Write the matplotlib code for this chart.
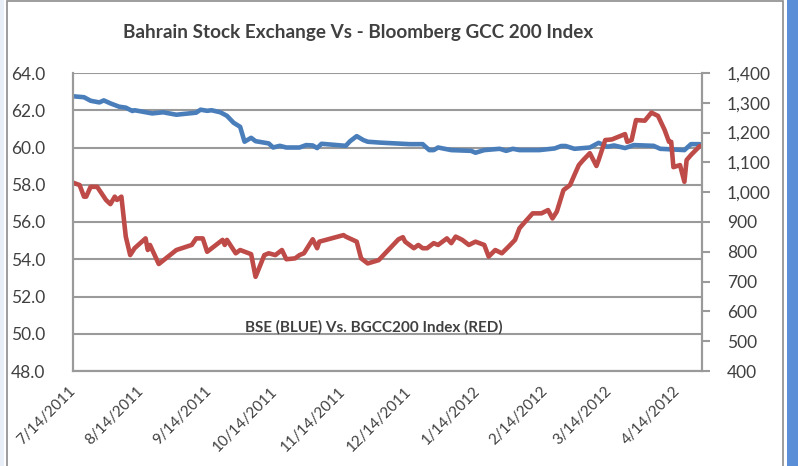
import datetime as dt
from matplotlib import pyplot as plt
from matplotlib.patches import Rectangle
from matplotlib.ticker import FuncFormatter, MultipleLocator

# =============================================================================
# Data
# =============================================================================
bse_dates = ['2011-07-14', '2011-07-19', '2011-07-22', '2011-07-26', '2011-07-28',
             '2011-07-31', '2011-08-04', '2011-08-07', '2011-08-10', '2011-08-11',
             '2011-08-19', '2011-08-24', '2011-08-30', '2011-09-08', '2011-09-10',
             '2011-09-13', '2011-09-15', '2011-09-19', '2011-09-22', '2011-09-25',
             '2011-09-28', '2011-09-30', '2011-10-03', '2011-10-05', '2011-10-11',
             '2011-10-13', '2011-10-16', '2011-10-19', '2011-10-25', '2011-10-28',
             '2011-10-31', '2011-11-02', '2011-11-04', '2011-11-15', '2011-11-17',
             '2011-11-20', '2011-11-23', '2011-11-25', '2011-12-01', '2011-12-14',
             '2011-12-20', '2011-12-23', '2011-12-25', '2011-12-27', '2012-01-02',
             '2012-01-11', '2012-01-13', '2012-01-17', '2012-01-24', '2012-01-27',
             '2012-01-30', '2012-02-02', '2012-02-11', '2012-02-18', '2012-02-21',
             '2012-02-23', '2012-02-27', '2012-03-05', '2012-03-09', '2012-03-13',
             '2012-03-16', '2012-03-21', '2012-03-25', '2012-04-03', '2012-04-06',
             '2012-04-11', '2012-04-17', '2012-04-20', '2012-04-24']
bse_values = [62.75, 62.70, 62.51, 62.42, 62.53, 62.37, 62.19, 62.14, 61.96, 62.00,
              61.83, 61.89, 61.76, 61.87, 62.03, 61.97, 62.00, 61.89, 61.70, 61.33,
              61.11, 60.31, 60.52, 60.34, 60.22, 60.00, 60.09, 60.00, 60.00, 60.13,
              60.11, 59.97, 60.20, 60.09, 60.34, 60.61, 60.40, 60.31, 60.26, 60.18,
              60.18, 59.86, 59.86, 60.00, 59.86, 59.82, 59.72, 59.86, 59.93, 59.82,
              59.93, 59.86, 59.86, 59.95, 60.08, 60.08, 59.93, 60.00, 60.25, 60.04,
              60.11, 59.97, 60.13, 60.09, 59.93, 59.90, 59.86, 60.18, 60.18]

gcc_dates = ['2011-07-14', '2011-07-17', '2011-07-19', '2011-07-20', '2011-07-22',
             '2011-07-25', '2011-07-27', '2011-07-29', '2011-07-31', '2011-08-02',
             '2011-08-03', '2011-08-05', '2011-08-07', '2011-08-09', '2011-08-11',
             '2011-08-16', '2011-08-17', '2011-08-18', '2011-08-22', '2011-08-30',
             '2011-09-06', '2011-09-08', '2011-09-11', '2011-09-13', '2011-09-20',
             '2011-09-21', '2011-09-22', '2011-09-26', '2011-09-28', '2011-10-03',
             '2011-10-05', '2011-10-09', '2011-10-11', '2011-10-14', '2011-10-17',
             '2011-10-19', '2011-10-23', '2011-10-25', '2011-10-27', '2011-10-31',
             '2011-11-02', '2011-11-03', '2011-11-14', '2011-11-15', '2011-11-20',
             '2011-11-22', '2011-11-25', '2011-11-30', '2011-12-09', '2011-12-11',
             '2011-12-12', '2011-12-16', '2011-12-18', '2011-12-20', '2011-12-22',
             '2011-12-25', '2011-12-27', '2011-12-31', '2012-01-02', '2012-01-04',
             '2012-01-07', '2012-01-10', '2012-01-13', '2012-01-17', '2012-01-19',
             '2012-01-22', '2012-01-25', '2012-01-28', '2012-01-31', '2012-02-02',
             '2012-02-04', '2012-02-08', '2012-02-12', '2012-02-15', '2012-02-17',
             '2012-02-19', '2012-02-22', '2012-02-25', '2012-02-27', '2012-02-29',
             '2012-03-02', '2012-03-05', '2012-03-08', '2012-03-09', '2012-03-12',
             '2012-03-15', '2012-03-18', '2012-03-21', '2012-03-22', '2012-03-24',
             '2012-03-26', '2012-03-30', '2012-04-02', '2012-04-05', '2012-04-08',
             '2012-04-10', '2012-04-11', '2012-04-12', '2012-04-15', '2012-04-17',
             '2012-04-18', '2012-04-20', '2012-04-24']
gcc_values = [1032, 1024, 985, 985, 1018, 1018, 996, 974, 960, 985,
              974, 985, 851, 789, 812, 845, 806, 823, 759, 806,
              823, 845, 845, 800, 840, 823, 840, 795, 806, 792,
              716, 789, 795, 789, 806, 775, 778, 789, 795, 842,
              812, 834, 856, 851, 834, 778, 761, 772, 842, 849,
              834, 812, 823, 812, 812, 829, 823, 845, 829, 851,
              840, 823, 834, 823, 784, 806, 795, 817, 840, 879,
              896, 929, 929, 940, 912, 935, 1007, 1024, 1058, 1091,
              1108, 1131, 1088, 1108, 1175, 1177, 1186, 1195, 1169, 1175,
              1242, 1240, 1267, 1256, 1209, 1169, 1169, 1084, 1091, 1035,
              1108, 1125, 1155]

xtick_labels = ['7/14/2011', '8/14/2011', '9/14/2011', '10/14/2011', '11/14/2011',
                '12/14/2011', '1/14/2012', '2/14/2012', '3/14/2012', '4/14/2012']


def to_dates(strings, fmt):
    return [dt.datetime.strptime(s, fmt) for s in strings]


# =============================================================================
# Plot
# =============================================================================
plt.rcParams['font.family'] = ['Lato', 'DejaVu Sans']
txt = '#404040'
grid_c = '#9a9a9a'

fig = plt.figure(figsize=[7.98, 4.66], dpi=100)
ax1 = fig.add_axes([73/798, 1-371/466, (702-73)/798, (371-73)/466])
ax2 = ax1.twinx()

ax1.plot(to_dates(bse_dates, '%Y-%m-%d'), bse_values, color='#4a7ebb', lw=3.3,
         solid_capstyle='round', solid_joinstyle='round')
ax2.plot(to_dates(gcc_dates, '%Y-%m-%d'), gcc_values, color='#be4b48', lw=3.3,
         solid_capstyle='round', solid_joinstyle='round')

ax1.set_ylim(48, 64)
ax1.yaxis.set_major_locator(MultipleLocator(2))
ax1.yaxis.set_major_formatter(FuncFormatter(lambda v, p: '%.1f' % v))
ax2.set_ylim(400, 1400)
ax2.yaxis.set_major_locator(MultipleLocator(100))
ax2.yaxis.set_major_formatter(FuncFormatter(lambda v, p: '{:,.0f}'.format(v)))

tick_dates = to_dates(xtick_labels, '%m/%d/%Y')
ax1.set_xlim(tick_dates[0], dt.datetime(2012, 4, 25))
ax1.set_xticks(tick_dates)
ax1.set_xticklabels(xtick_labels, rotation=45, ha='right', va='center',
                    rotation_mode='anchor', color=txt, fontsize=11)
ax1.tick_params(axis='x', length=0, pad=13)
ax1.tick_params(axis='y', length=0, pad=20, labelsize=12.5, labelcolor=txt)
ax2.tick_params(axis='y', length=6, width=1.5, color=grid_c, pad=12,
                labelsize=12.5, labelcolor=txt, direction='out')

ax1.grid(axis='y', color=grid_c, lw=1.5)
ax1.set_axisbelow(True)
for ax in (ax1, ax2):
    ax.spines['top'].set_visible(False)
    for s in ('left', 'right', 'bottom'):
        ax.spines[s].set_color(grid_c)
        ax.spines[s].set_linewidth(1.5)

ax1.text(0.479, 0.148, 'BSE (BLUE) Vs. BGCC200 Index (RED)', transform=ax1.transAxes,
         ha='center', va='center', fontsize=11, fontweight='bold', color=txt)
fig.text(358/798, 0.93, 'Bahrain Stock Exchange Vs - Bloomberg GCC 200 Index',
         ha='center', va='center', fontsize=13.6, fontweight='bold', color=txt)

# chart frame and window edges
fig.patches.append(Rectangle((7/798, -0.1), (783-7)/798, 1.098, transform=fig.transFigure,
                             fill=False, edgecolor='#8c8c8c', lw=1.2))
fig.patches.append(Rectangle((787/798, 0), 11/798, 1, transform=fig.transFigure,
                             facecolor='#5a8fd8', edgecolor='none'))
fig.patches.append(Rectangle((0, 0), 4/798, 1, transform=fig.transFigure,
                             facecolor='#e8eef8', edgecolor='none'))

plt.savefig('out.png', dpi=100)
